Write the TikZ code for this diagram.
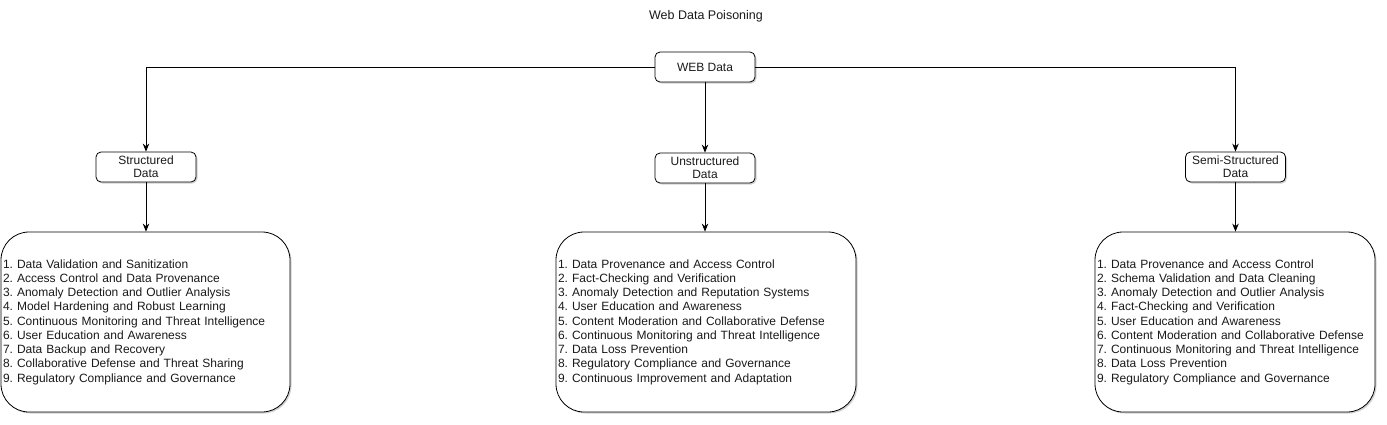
\documentclass[tikz,border=0pt]{standalone}
\usepackage{fontspec}
\setmainfont{Liberation Sans}
\usetikzlibrary{shadows,arrows.meta}
\definecolor{txt}{HTML}{1A1A1A}
\frenchspacing
\begin{document}
\begin{tikzpicture}[x=1pt,y=-1pt,
  every node/.style={text=txt,font=\fontsize{12}{14}\selectfont},
  shad/.style={drop shadow={shadow xshift=1.5pt,shadow yshift=-1.5pt,opacity=0.18,fill=black}},
  smallbox/.style={draw,line width=0.8pt,rounded corners=5pt,minimum width=100pt,minimum height=30pt,
    inner sep=0pt,align=center,fill=white,shad,font=\fontsize{12}{13}\selectfont},
  listbox/.style={draw,line width=0.8pt,rounded corners=28pt,minimum height=180pt,inner xsep=2pt,inner ysep=0pt,
    align=left,fill=white,shad,font=\fontsize{12}{14.25}\selectfont},
  conn/.style={line width=0.8pt,-{Stealth[length=8pt,width=6.5pt]}}]
\useasboundingbox[fill=white] (0,0) rectangle (1387,424);

\node[font=\fontsize{12.5}{14}\selectfont] (title) at (706,16) {Web Data Poisoning};

\node[smallbox] (web) at (705,67) {WEB Data};
\node[smallbox] (st) at (146,167) {Structured\\Data};
\node[smallbox] (un) at (705,168) {Unstructured\\Data};
\node[smallbox] (se) at (1235.5,167) {Semi-Structured\\Data};

\node[listbox,minimum width=289pt,text width=285pt] (l1) at (145.5,322) {%
1. Data Validation and Sanitization\\
2. Access Control and Data Provenance\\
3. Anomaly Detection and Outlier Analysis\\
4. Model Hardening and Robust Learning\\
5. Continuous Monitoring and Threat Intelligence\\
6. User Education and Awareness\\
7. Data Backup and Recovery\\
8. Collaborative Defense and Threat Sharing\\
9. Regulatory Compliance and Governance};

\node[listbox,minimum width=300pt,text width=296pt] (l2) at (706,322) {%
1. Data Provenance and Access Control\\
2. Fact-Checking and Verification\\
3. Anomaly Detection and Reputation Systems\\
4. User Education and Awareness\\
5. Content Moderation and Collaborative Defense\\
6. Continuous Monitoring and Threat Intelligence\\
7. Data Loss Prevention\\
8. Regulatory Compliance and Governance\\
9. Continuous Improvement and Adaptation};

\node[listbox,minimum width=280pt,text width=276pt] (l3) at (1235,322) {%
1. Data Provenance and Access Control\\
2. Schema Validation and Data Cleaning\\
3. Anomaly Detection and Outlier Analysis\\
4. Fact-Checking and Verification\\
5. User Education and Awareness\\
6. Content Moderation and Collaborative Defense\\
7. Continuous Monitoring and Threat Intelligence\\
8. Data Loss Prevention\\
9. Regulatory Compliance and Governance};

\draw[conn] (web.west) -| (st.north);
\draw[conn] (web.east) -| (se.north);
\draw[conn] (web.south) -- (un.north);
\draw[conn] (st.south) -- (st.south |- l1.north);
\draw[conn] (un.south) -- (un.south |- l2.north);
\draw[conn] (se.south) -- (se.south |- l3.north);
\end{tikzpicture}
\end{document}
